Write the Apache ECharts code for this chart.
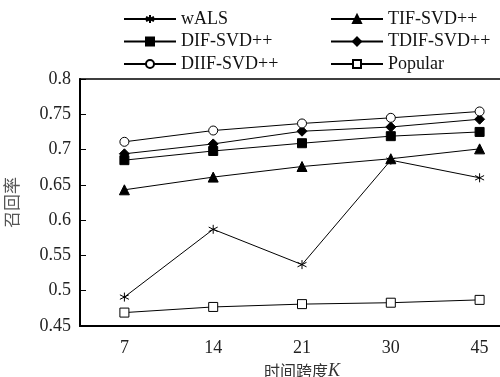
<!DOCTYPE html>
<html><head><meta charset="utf-8">
<script src="https://cdn.jsdelivr.net/npm/echarts@6/dist/echarts.min.js"></script>
<style>html,body{margin:0;padding:0;background:#fff;overflow:hidden;width:500px;height:377px}#c{width:524px;height:377px}</style>
</head><body><div id="c"></div>
<script>
var categories = ['7', '14', '21', '30', '45'];
var wALS = [0.491, 0.587, 0.537, 0.685, 0.660];
var tifSVD = [0.643, 0.661, 0.676, 0.687, 0.701];
var difSVD = [0.685, 0.698, 0.709, 0.719, 0.725];
var tdifSVD = [0.694, 0.708, 0.726, 0.732, 0.743];
var diifSVD = [0.711, 0.727, 0.737, 0.745, 0.754];
var popular = [0.469, 0.477, 0.481, 0.483, 0.487];
var yTicks = [0.45, 0.5, 0.55, 0.6, 0.65, 0.7, 0.75, 0.8];

var FONT = '"Liberation Serif", "Times New Roman", serif';
var asterisk = 'path://M0,-10L0,10M-8.66,-5L8.66,5M-8.66,5L8.66,-5';

function mk(name, data, symbol, size, fill) {
  return {
    name: name, type: 'line', data: data, symbol: symbol, symbolSize: size,
    lineStyle: {color: '#000', width: 1},
    itemStyle: {color: fill, borderColor: '#000', borderWidth: 1},
    emphasis: {disabled: true}, animation: false
  };
}

var legendText = {fontFamily: FONT, fontSize: 18, color: '#111', lineHeight: 16};
var chart = echarts.init(document.getElementById('c'));
chart.setOption({
  backgroundColor: '#fff',
  animation: false,
  grid: {left: 80, top: 79, bottom: 51, right: 0, outerBoundsMode: 'none', containLabel: false,
         show: true, borderColor: '#000', borderWidth: 1.5, backgroundColor: 'transparent'},
  legend: [
    {data: ['wALS', 'DIF-SVD++', 'DIIF-SVD++'], orient: 'vertical', left: 123, top: 10, padding: 0, itemWidth: 52, itemHeight: 10, itemGap: 4.5,
     textStyle: legendText},
    {data: ['TIF-SVD++', 'TDIF-SVD++', 'Popular'], orient: 'vertical', left: 330, top: 10, padding: 0, itemWidth: 52, itemHeight: 10, itemGap: 4.5,
     textStyle: legendText}
  ],
  xAxis: {
    type: 'category', data: categories, boundaryGap: true,
    name: '时间跨度{k|K}', nameLocation: 'middle', nameGap: 36,
    nameTextStyle: {fontFamily: '"Noto Sans CJK SC", ' + FONT, fontSize: 16, color: '#333',
      rich: {k: {fontFamily: FONT, fontStyle: 'italic', fontSize: 18, color: '#333'}}},
    axisLine: {lineStyle: {color: '#000', width: 2}},
    axisTick: {inside: true, length: 7, lineStyle: {color: '#000', width: 1}},
    axisLabel: {fontFamily: FONT, fontSize: 18, color: '#222', margin: 13},
    splitLine: {show: false}
  },
  yAxis: {
    type: 'value', min: 0.45, max: 0.8, interval: 0.05,
    name: '召回率', nameLocation: 'middle', nameGap: 60, nameRotate: 90,
    nameTextStyle: {fontFamily: '"Noto Sans CJK SC", sans-serif', fontSize: 17, color: '#555'},
    axisLine: {show: true, lineStyle: {color: '#000', width: 2}},
    axisTick: {show: true, inside: true, length: 6, lineStyle: {color: '#000', width: 1}},
    axisLabel: {fontFamily: FONT, fontSize: 18, color: '#222', margin: 9,
      formatter: function (v) { return String(Math.round(v * 100) / 100); }},
    splitLine: {show: false}
  },
  series: [
    mk('wALS', wALS, asterisk, 9, 'none'),
    mk('TIF-SVD++', tifSVD, 'triangle', 10, '#000'),
    mk('DIF-SVD++', difSVD, 'rect', 9, '#000'),
    mk('TDIF-SVD++', tdifSVD, 'diamond', 10, '#000'),
    mk('DIIF-SVD++', diifSVD, 'circle', 9, '#fff'),
    mk('Popular', popular, 'rect', 9, '#fff')
  ]
});
</script></body></html>
